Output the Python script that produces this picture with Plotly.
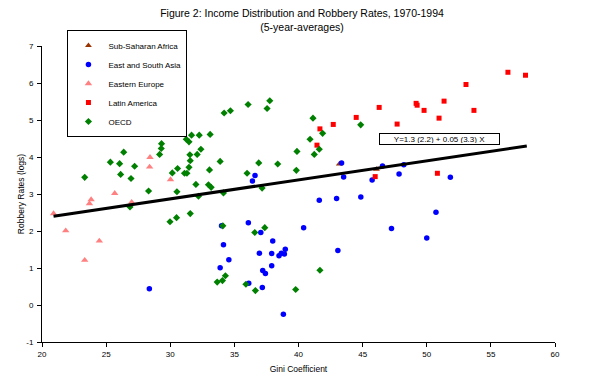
import plotly.graph_objects as go

# ---- data ----
ssa_x = [43.18, 46.08]
ssa_y = [3.81, 3.67]

asia_x = [28.37, 36.61, 36.41, 43.36, 43.52, 45.74, 46.55, 48.21, 47.84, 51.84,
          41.62, 42.97, 44.86, 50.72, 47.25, 50.0, 34.0, 36.09, 37.06, 40.4,
          34.15, 37.99, 36.95, 37.91, 38.48, 38.66, 38.9, 38.97, 34.57, 33.89,
          37.91, 37.21, 37.42, 43.07, 36.12, 37.18, 38.82]
asia_y = [0.44, 3.50, 3.35, 3.84, 3.46, 3.38, 3.76, 3.79, 3.54, 3.45,
          2.83, 2.88, 2.92, 2.51, 2.07, 1.81, 2.14, 2.22, 1.96, 2.09,
          1.63, 1.73, 1.40, 1.39, 1.33, 1.40, 1.38, 1.51, 1.22, 1.01,
          1.06, 0.93, 0.85, 1.47, 0.59, 0.47, -0.25]

ee_x = [20.9, 21.85, 23.33, 23.7, 23.83, 24.47, 25.67, 26.99, 28.42, 28.39, 30.02]
ee_y = [2.47, 2.01, 1.21, 2.74, 2.85, 1.73, 3.02, 2.78, 3.99, 3.73, 3.39]

la_x = [41.67, 41.44, 42.71, 44.5, 46.29, 47.69, 49.17, 49.25, 49.79, 50.96,
        51.35, 53.06, 53.68, 56.33, 57.70, 45.98, 50.83]
la_y = [4.76, 4.32, 4.88, 5.07, 5.34, 4.89, 5.45, 5.40, 5.26, 5.05,
        5.51, 5.96, 5.26, 6.29, 6.21, 3.47, 3.56]

oecd_x = [23.33, 25.33, 26.05, 26.13, 26.37, 27.22, 26.94, 26.86, 27.53, 28.31,
          29.17, 29.3, 29.32, 30.16, 30.57, 30.52, 29.98, 30.49, 31.56, 31.11,
          31.3, 31.46, 31.56, 31.53, 31.25, 31.46, 31.66, 32.1, 32.0, 32.26,
          33.11, 32.39, 33.89, 33.06, 32.98, 33.19, 34.15, 32.2, 35.99, 34.2,
          34.69, 36.07, 37.76, 37.55, 41.13, 41.88, 40.9, 44.85, 41.62, 41.23,
          39.88, 36.9, 38.38, 39.83, 37.16, 34.1, 37.37, 36.59, 41.67, 34.3,
          34.07, 33.66, 35.9, 36.64, 39.78]
oecd_y = [3.45, 3.86, 3.82, 3.53, 4.13, 3.75, 3.42, 2.65, 4.66, 3.08,
          4.07, 4.23, 4.36, 3.57, 3.69, 3.06, 2.25, 2.36, 2.47, 3.56,
          3.56, 3.72, 3.90, 4.06, 4.48, 4.41, 4.59, 4.07, 3.26, 4.59,
          4.61, 4.21, 3.88, 3.65, 3.25, 3.18, 3.03, 2.94, 3.56, 5.19,
          5.25, 5.42, 5.52, 5.31, 5.05, 4.64, 4.48, 4.87, 4.21, 4.07,
          4.15, 3.84, 3.81, 3.64, 3.16, 2.14, 2.09, 1.96, 0.94, 0.79,
          0.66, 0.62, 0.56, 0.39, 0.42]

reg_x = [20.9, 57.8]
reg_y = [2.40, 4.30]

equation = "Y=1.3 (2.2) + 0.05 (3.3) X"
x_ticks = [20, 25, 30, 35, 40, 45, 50, 55, 60]
y_ticks = [-1, 0, 1, 2, 3, 4, 5, 6, 7]
y_tick_text = ["-1", "0", "1", "2", "3", "4", "5", "6", "7"]

FONT = "Liberation Sans, Arial, sans-serif"

fig = go.Figure()
fig.add_trace(go.Scatter(x=ssa_x, y=ssa_y, mode="markers", name="Sub-Saharan Africa",
                         marker=dict(symbol="triangle-up", size=6, color="#993300")))
fig.add_trace(go.Scatter(x=asia_x, y=asia_y, mode="markers", name="East and South Asia",
                         marker=dict(symbol="circle", size=5.5, color="#0000FF")))
fig.add_trace(go.Scatter(x=ee_x, y=ee_y, mode="markers", name="Eastern Europe",
                         marker=dict(symbol="triangle-up", size=6.5, color="#FF8080")))
fig.add_trace(go.Scatter(x=la_x, y=la_y, mode="markers", name="Latin America",
                         marker=dict(symbol="square", size=5, color="#FF0000")))
fig.add_trace(go.Scatter(x=oecd_x, y=oecd_y, mode="markers", name="OECD",
                         marker=dict(symbol="diamond", size=5.5, color="#008000")))
fig.add_trace(go.Scatter(x=reg_x, y=reg_y, mode="lines", showlegend=False,
                         line=dict(color="black", width=3)))

fig.add_annotation(x=51.0, y=4.48, xref="x", yref="y", text=equation, showarrow=False,
                   font=dict(family=FONT, size=8, color="black"),
                   bordercolor="black", borderwidth=1, bgcolor="white",
                   width=117, height=8, borderpad=1)

fig.update_layout(
    width=597, height=379,
    margin=dict(l=33.5, r=49.5, t=38, b=45.3),
    paper_bgcolor="white", plot_bgcolor="white",
    font=dict(family=FONT, size=8, color="black"),
    title=dict(text="Figure 2: Income Distribution and Robbery Rates, 1970-1994<br>(5-year-averages)",
               xref="container", x=0.4925, xanchor="center",
               yref="container", y=0.975, yanchor="top",
               font=dict(family=FONT, size=10.5, color="black")),
    legend=dict(x=0.0496, y=1.054, xanchor="left", yanchor="top",
                bordercolor="black", borderwidth=1, bgcolor="white",
                font=dict(family=FONT, size=8, color="black"),
                itemwidth=30, tracegroupgap=0),
    xaxis=dict(range=[20, 60], tickvals=x_ticks, showgrid=False, zeroline=False,
               showline=True, linecolor="black", linewidth=1,
               ticks="outside", ticklen=4, tickcolor="black",
               title=dict(text="Gini Coefficient", font=dict(size=8.5), standoff=8)),
    yaxis=dict(range=[-1, 7], tickvals=y_ticks, ticktext=y_tick_text,
               showgrid=False, zeroline=False,
               showline=True, linecolor="black", linewidth=1,
               ticks="outside", ticklen=4, tickcolor="black", ticklabelstandoff=2,
               title=dict(text="Robbery Rates (logs)", font=dict(size=8.5), standoff=0)),
)

fig.write_html("out.html")
